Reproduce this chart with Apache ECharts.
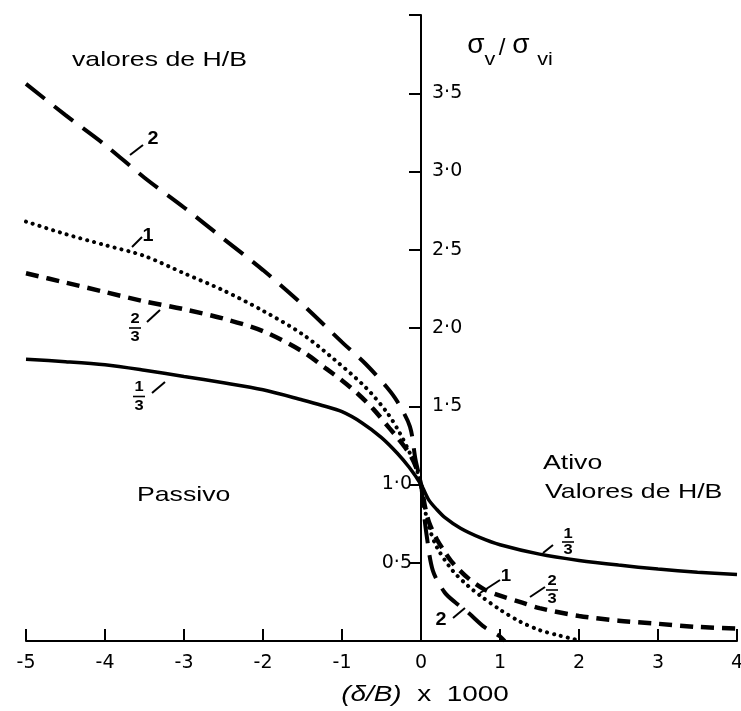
<!DOCTYPE html>
<html>
<head>
<meta charset="utf-8">
<script src="https://cdn.jsdelivr.net/npm/echarts@6/dist/echarts.min.js"></script>
<style>
html,body{margin:0;padding:0;background:#fff;}
#chart{width:741px;height:711px;}
</style>
</head>
<body>
<div id="chart"></div>
<script>
// ---- Data ----
const xTicks = [-5, -4, -3, -2, -1, 0, 1, 2, 3, 4];
const yLabelsRight = [1.5, 2.0, 2.5, 3.0, 3.5];
const yLabelsLeft = [0.5, 1.0];

// H/B = 2 (long dash)
const hb2 = [[-5,3.56],[-4.5,3.36],[-4,3.17],[-3.5,2.96],[-3,2.77],[-2.5,2.57],[-2,2.37],[-1.5,2.15],[-1,1.91],[-0.7,1.77],[-0.43,1.62],[-0.3,1.53],[-0.14,1.37],[-0.07,1.16],[0,1.0],
             [0.03,0.85],[0.07,0.68],[0.15,0.45],[0.3,0.31],[0.45,0.24],[0.6,0.18],[0.8,0.09],[1.0,0.03],[1.06,0.0]];
// H/B = 1 (dotted)
const hb1 = [[-5,2.68],[-4.5,2.6],[-4,2.53],[-3.5,2.46],[-3,2.35],[-2.5,2.24],[-2,2.11],[-1.5,1.96],[-1.1,1.8],[-0.7,1.62],[-0.43,1.46],[-0.27,1.33],[-0.14,1.2],[-0.07,1.12],[0,1.0],
             [0.05,0.84],[0.1,0.73],[0.2,0.6],[0.4,0.45],[0.6,0.35],[0.75,0.29],[1.0,0.2],[1.25,0.125],[1.5,0.07],[1.75,0.035],[1.95,0.01]];
// H/B = 2/3 (short dash)
const hb23 = [[-5,2.35],[-4.5,2.29],[-4,2.23],[-3.5,2.17],[-3,2.12],[-2.5,2.06],[-2,1.98],[-1.5,1.85],[-1.2,1.74],[-1,1.665],[-0.8,1.58],[-0.6,1.48],[-0.4,1.36],[-0.3,1.3],[-0.15,1.2],[-0.07,1.12],[0,1.0],
              [0.05,0.86],[0.1,0.76],[0.2,0.65],[0.3,0.57],[0.4,0.5],[0.6,0.4],[0.8,0.33],[1.0,0.29],[1.25,0.25],[1.5,0.21],[2,0.16],[2.5,0.13],[3,0.11],[3.5,0.09],[4,0.08]];
// H/B = 1/3 (solid)
const hb13 = [[-5,1.80],[-4.5,1.785],[-4,1.765],[-3.5,1.73],[-3,1.69],[-2.5,1.65],[-2,1.605],[-1.5,1.54],[-1.25,1.505],[-1,1.465],[-0.75,1.395],[-0.5,1.30],[-0.3,1.2],[-0.15,1.11],[0,1.0],
              [0.1,0.9],[0.2,0.84],[0.3,0.79],[0.5,0.72],[0.75,0.66],[1,0.615],[1.5,0.555],[2,0.515],[2.5,0.485],[3,0.46],[3.5,0.44],[4,0.425]];

// ---- Chart ----
const chart = echarts.init(document.getElementById('chart'), null, {renderer: 'canvas'});
const SX = 1.27;
const FONT = 'Liberation Sans, Arial, sans-serif';
const GRID = {left:26, right:4, top:15, bottom:70};
const X_MIN = -5, X_MAX = 4;
// y axis sits at x = 0: shift it from the grid's left edge by the scale's own proportion
const Y_OFFSET = -((0 - X_MIN) / (X_MAX - X_MIN)) * (741 - GRID.left - GRID.right);
function fmt(v){ return v.toFixed(1).replace('.', '\u00B7'); }
function txt(x, y, text, size, align, weight, scale) {
  return {type:'text', x:x, y:y, scaleX:(scale==null?SX:scale), z:100,
    style:{text:text, fontSize:size, fontFamily:FONT, fontWeight:weight||'normal', fill:'#000',
      textAlign:align||'center', textVerticalAlign:'middle'}};
}
function seg(x1,y1,x2,y2){
  return {type:'line', z:100, shape:{x1:x1,y1:y1,x2:x2,y2:y2}, style:{stroke:'#000', lineWidth:2}};
}
function frac(cx, numY, denY, num, den){
  const barY = (numY + denY) / 2;
  return [
    txt(cx, numY, num, 15, 'center', 'bold', 1.1),
    {type:'line', z:100, shape:{x1:cx-6, y1:barY, x2:cx+6, y2:barY}, style:{stroke:'#000', lineWidth:1.6}},
    txt(cx, denY, den, 15, 'center', 'bold', 1.1)
  ];
}
const lineBase = {type:'line', showSymbol:false, smooth:0.3, silent:true, clip:false};
const option = {
  animation:false,
  backgroundColor:'#fff',
  grid:{left:GRID.left, right:GRID.right, top:GRID.top, bottom:GRID.bottom, outerBoundsMode:'none', containLabel:false},
  xAxis:{type:'value', min:X_MIN, max:X_MAX, interval:1,
    axisLine:{onZero:false, lineStyle:{color:'#000', width:2}},
    axisTick:{inside:true, length:12, lineStyle:{color:'#000', width:2}},
    axisLabel:{margin:13, fontFamily:'DejaVu Sans', fontSize:19, color:'#000',
      formatter: v => xTicks.includes(v) ? String(v) : ''},
    splitLine:{show:false}},
  yAxis:[
    {type:'value', min:0, max:4, interval:0.5, position:'left', offset:Y_OFFSET,
      axisLine:{onZero:false, lineStyle:{color:'#000', width:2}},
      axisTick:{show:true, length:12, lineStyle:{color:'#000', width:2}},
      axisLabel:{inside:true, margin:11, fontFamily:'DejaVu Sans', fontSize:19, color:'#000',
        formatter: v => yLabelsRight.includes(v) ? fmt(v) : ''},
      splitLine:{show:false}},
    {type:'value', min:0, max:4, interval:0.5, position:'left', offset:Y_OFFSET,
      axisLine:{show:false, onZero:false},
      axisTick:{show:false},
      axisLabel:{inside:false, margin:9, fontFamily:'DejaVu Sans', fontSize:19, color:'#000',
        formatter: v => yLabelsLeft.includes(v) ? fmt(v) : ''},
      splitLine:{show:false}}
  ],
  series:[
    Object.assign({}, lineBase, {name:'2', data:hb2,
      lineStyle:{color:'#000', width:4, type:[24,12], cap:'butt'}}),
    Object.assign({}, lineBase, {name:'1', data:hb1,
      lineStyle:{color:'#000', width:4, type:[0.1,7], cap:'round'}}),
    Object.assign({}, lineBase, {name:'2/3', data:hb23,
      lineStyle:{color:'#000', width:4.5, type:[13,8], cap:'butt'}}),
    Object.assign({}, lineBase, {name:'1/3', data:hb13,
      lineStyle:{color:'#000', width:3.5, type:'solid'}})
  ],
  graphic:[].concat(
    [
      txt(72, 60, 'valores de H/B', 21, 'left'),
      txt(137, 495, 'Passivo', 21, 'left'),
      txt(543, 463, 'Ativo', 21, 'left'),
      txt(545, 492, 'Valores de H/B', 21, 'left'),
      // y axis name: sigma_v / sigma_vi
      txt(476, 45, '\u03C3', 28, 'center', 'normal', 1),
      txt(490, 60, 'v', 18, 'center', 'normal', 1.2),
      txt(502, 48, '/', 24, 'center', 'normal', 1),
      txt(521, 45, '\u03C3', 28, 'center', 'normal', 1),
      txt(545, 60, 'vi', 18, 'center', 'normal', 1.2),
      // x axis name
      {type:'text', x:425, y:695, scaleX:SX, z:100,
        style:{text:'{i|(\u03B4/B)}  x  1000', fontSize:22, fontFamily:FONT, fill:'#000',
          textAlign:'center', textVerticalAlign:'middle',
          rich:{i:{fontStyle:'italic', fontSize:22, fontFamily:FONT, fill:'#000'}}}},
      // passive labels
      seg(130,155,143,145), txt(153,139,'2',18,'center','bold',1.1),
      seg(132,247,142,237), txt(148,236,'1',18,'center','bold',1.1),
      seg(147,322,160,310),
      seg(152,393,165,382),
      // active labels
      seg(543,553,553,545),
      seg(530,597,545,587),
      seg(480,593,500,580), txt(506,576,'1',17,'center','bold',1.1),
      seg(453,618,465,608), txt(441,620,'2',18,'center','bold',1.1)
    ],
    frac(135, 319, 337, '2', '3'),
    frac(139, 387, 406, '1', '3'),
    frac(568, 534, 550, '1', '3'),
    frac(552, 581, 599, '2', '3')
  )
};
chart.setOption(option);
</script>
</body>
</html>
